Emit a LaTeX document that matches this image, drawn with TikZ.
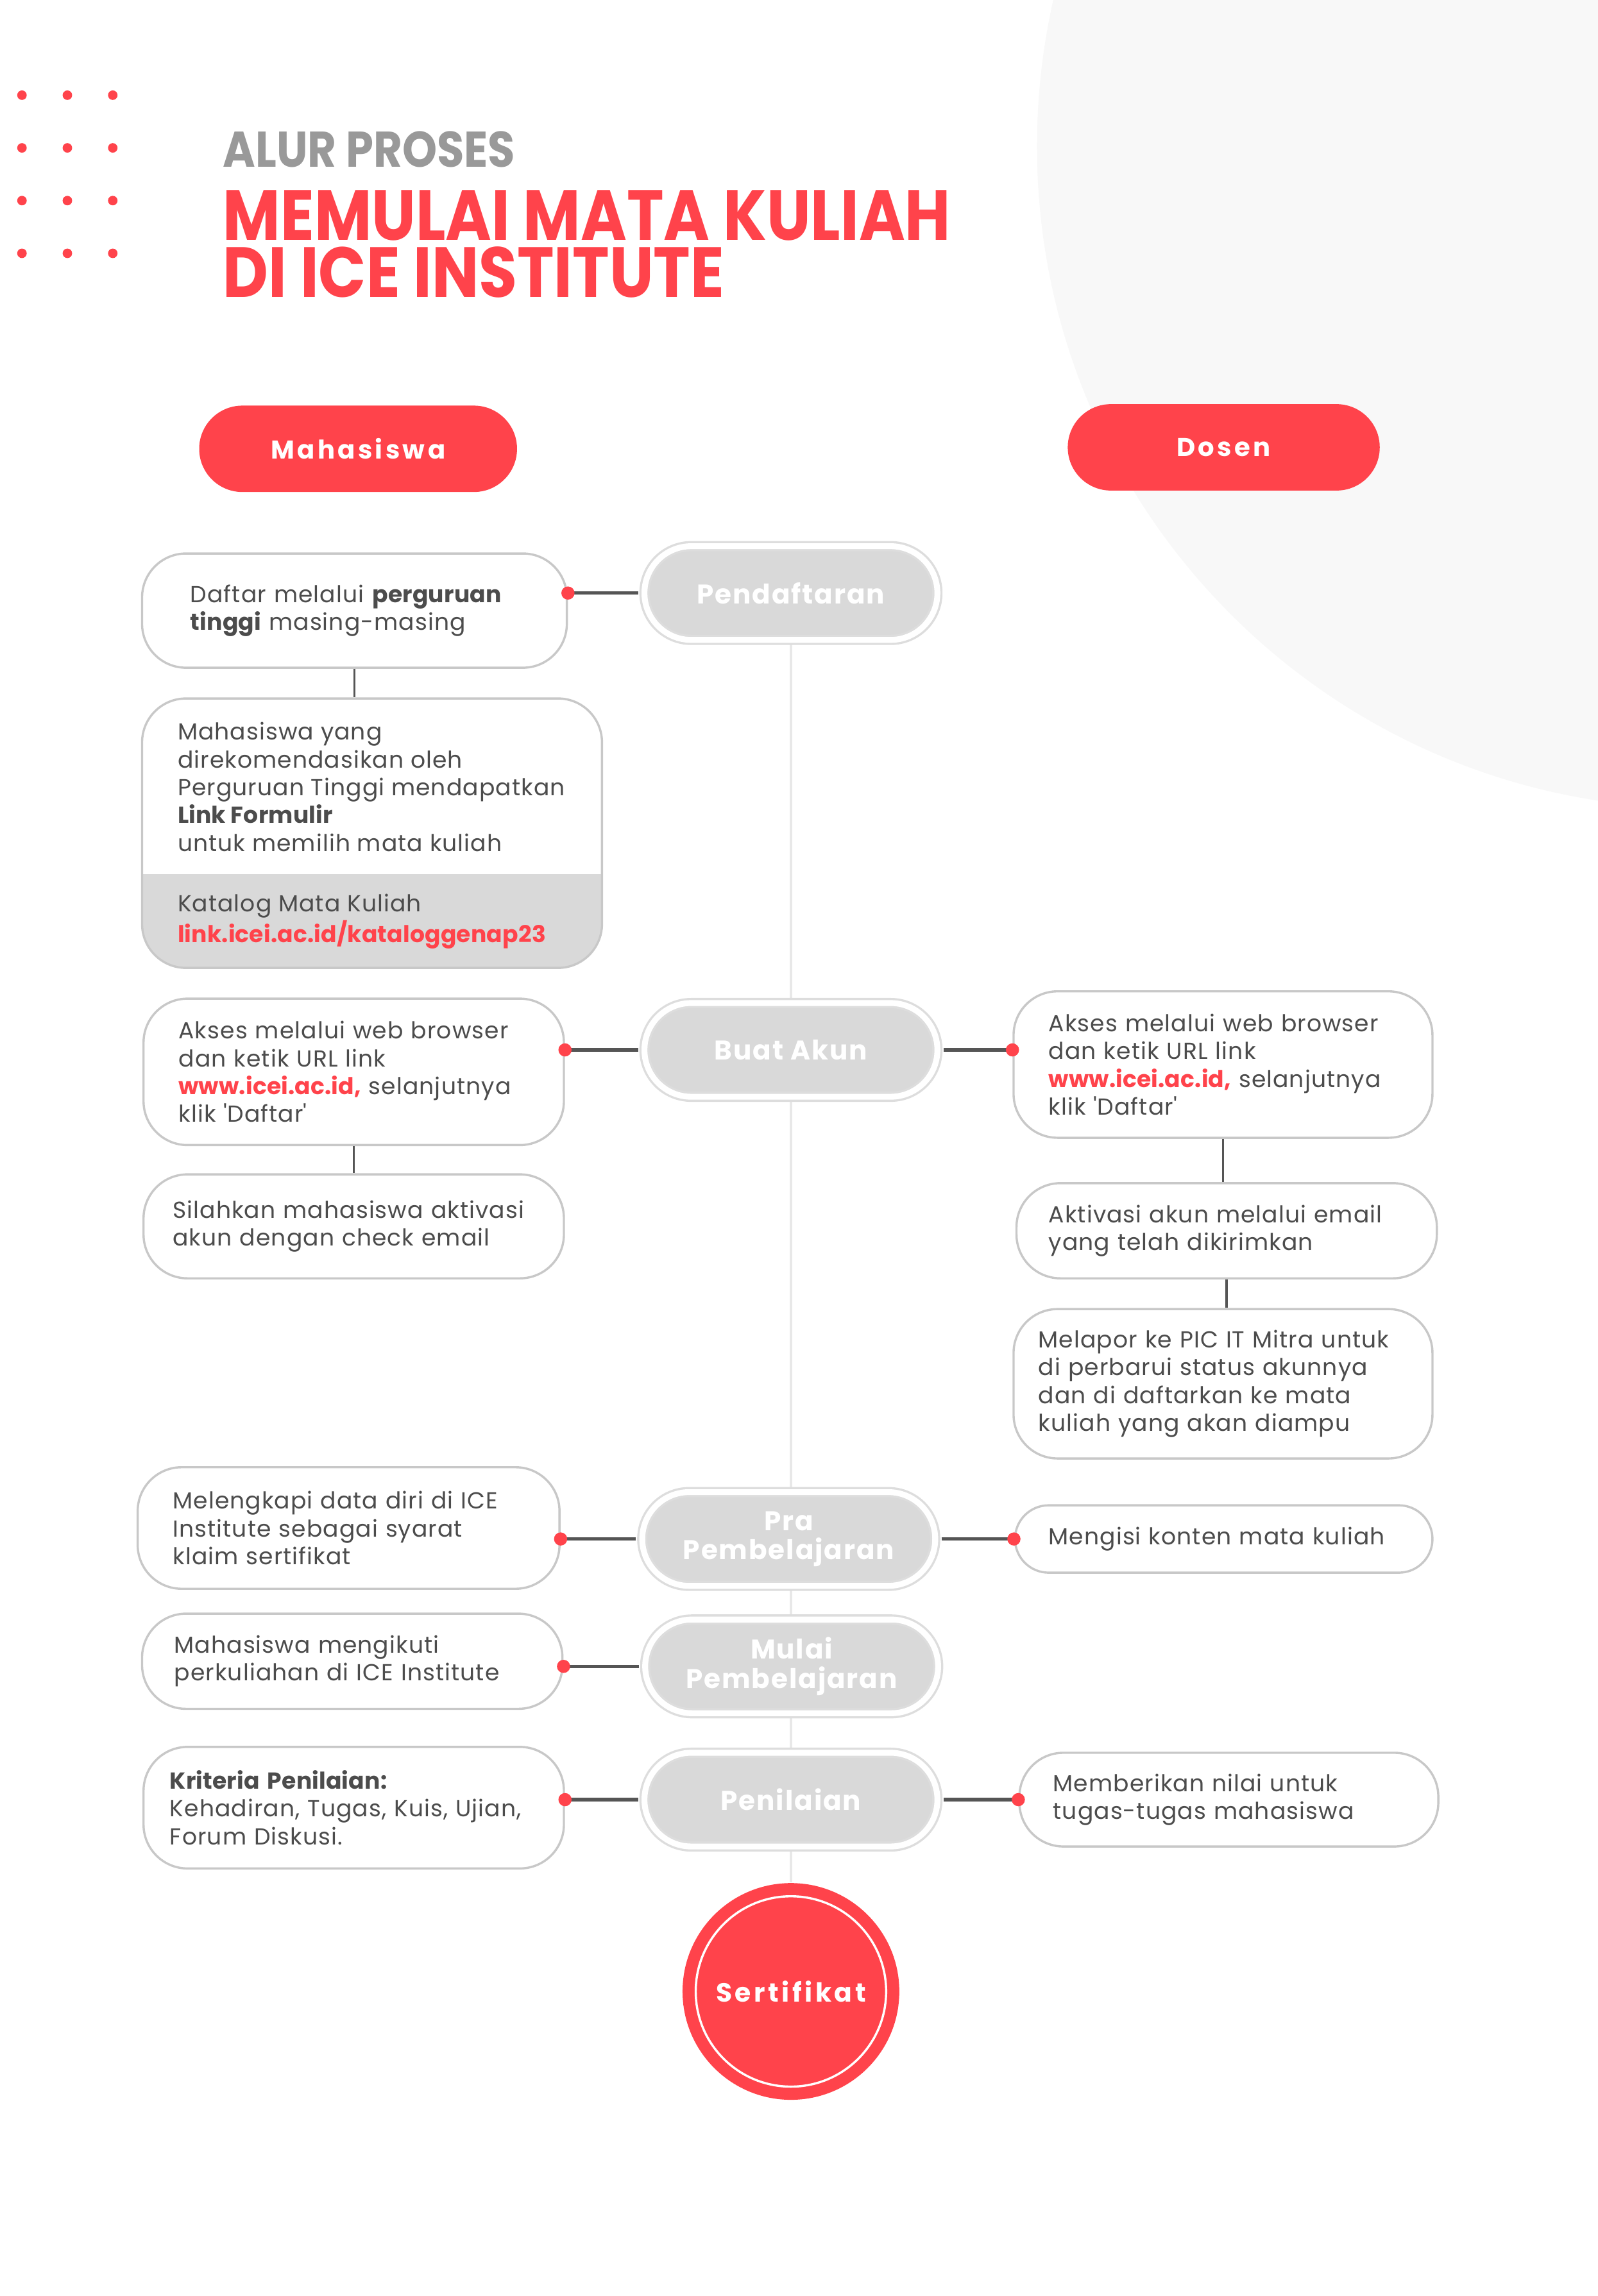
\documentclass[tikz,border=0pt]{standalone}
\usepackage{fontspec}
\setmainfont{Poppins}
\newfontfamily\bodyfont{Poppins}[LetterSpace=3.0, BoldFeatures={LetterSpace=0.5}]
\newfontfamily\stagefont{Poppins}[LetterSpace=4.5]
\newfontfamily\rolefont{Poppins}[LetterSpace=11.0]
\newfontfamily\titlefont{Poppins}[FakeStretch=0.88]
\usetikzlibrary{positioning,backgrounds}

\definecolor{icered}{HTML}{FF434B}
\definecolor{boxline}{HTML}{C8C8C8}
\definecolor{stagegray}{HTML}{D9D9D9}
\definecolor{ringgray}{HTML}{DDDDDD}
\definecolor{textgray}{HTML}{4C4C4C}
\definecolor{linkgray}{HTML}{555555}
\definecolor{bggray}{HTML}{F8F8F8}
\definecolor{titlegray}{HTML}{999999}
\definecolor{axisgray}{HTML}{E8E8E8}

\tikzset{
    box/.style   = {draw = boxline, line width = 0.3mm, fill = white, rounded corners = 6mm,
                    align = left, text = textgray, inner ysep = 0pt,
                    font = \bodyfont\fontsize{9}{10.8}\selectfont},
    textblock/.style = {anchor = north west, align = left, inner sep = 0pt, text = textgray,
                    font = \bodyfont\fontsize{9}{10.8}\selectfont},
    title/.style = {anchor = base west, inner sep = 0pt, align = left},
    stage/.style = {draw = ringgray, line width = 0.3mm, double = white, double distance = 0.8mm,
                    fill = stagegray, rounded corners = 6.39mm, minimum width = 40mm, minimum height = 12.8mm,
                    align = center, text = white, font = \stagefont\bfseries\fontsize{10.5}{11.3}\selectfont},
    role/.style  = {fill = icered, rounded corners = 5.89mm, minimum height = 11.8mm, text = white,
                    font = \rolefont\bfseries\fontsize{10}{12}\selectfont},
    cert/.style  = {circle, fill = icered, minimum size = 29.6mm, text = white,
                    font = \rolefont\bfseries\fontsize{10.2}{11.3}\selectfont,
                    path picture = {\draw [white, line width = 0.3mm] (path picture bounding box.center) circle [radius = 13mm];}},
    link/.style  = {draw = linkgray, line width = 0.45mm, shorten <= 0.7mm},
    stem/.style  = {draw = linkgray, line width = 0.3mm},
    dot/.style   = {circle, fill = icered, inner sep = 0pt, minimum size = 1.8mm},
}

\begin{document}
\begin{tikzpicture}[x = 0.2mm, y = -0.2mm]
    \useasboundingbox (0,0) rectangle (1091,1568);

    % background
    \begin{scope}
        \clip (0,0) rectangle (1091,1568);
        \fill [bggray] (1160,100) circle [radius = 90.4mm];
    \end{scope}

    \fill [icered] (15,65)  circle [radius = 0.65mm] (46,65)  circle [radius = 0.65mm] (77,65)  circle [radius = 0.65mm];
    \fill [icered] (15,101) circle [radius = 0.65mm] (46,101) circle [radius = 0.65mm] (77,101) circle [radius = 0.65mm];
    \fill [icered] (15,137) circle [radius = 0.65mm] (46,137) circle [radius = 0.65mm] (77,137) circle [radius = 0.65mm];
    \fill [icered] (15,173) circle [radius = 0.65mm] (46,173) circle [radius = 0.65mm] (77,173) circle [radius = 0.65mm];

    % title
    \node [title, text = titlegray, font = \titlefont\bfseries\fontsize{19.5}{20}\selectfont] (kicker) at (152,114) {ALUR PROSES};
    \node [title, text = icered, font = \titlefont\bfseries\fontsize{27.6}{22.3}\selectfont] (title) at (152,203)
        {MEMULAI MATA KULIAH\\DI ICE INSTITUTE};

    \node [role, minimum width = 43.4mm] (mhs) at (244.5,306.5) {Mahasiswa};
    \node [role, minimum width = 42.6mm] (dsn) at (835.5,305.5) {Dosen};

    % stages
    \node [stage] (daftar) at (540,405)    {Pendaftaran};
    \node [stage] (akun)   at (540,717)    {Buat Akun};
    \node [stage] (pra)    at (538.5,1051) {Pra\\Pembelajaran};
    \node [stage] (mulai)  at (540.5,1138) {Mulai\\Pembelajaran};
    \node [stage] (nilai)  at (540,1229)   {Penilaian};
    \node [cert]  (sert)   at (540,1360)   {Sertifikat};

    \begin{scope}[on background layer]
        \draw [axisgray, line width = 0.4mm] (daftar) -- (sert);
    \end{scope}

    % mahasiswa
    \node [box, minimum width = 58mm, minimum height = 15.6mm, inner xsep = 6.6mm, text width = 44.8mm] (l1) at (242,417)
        {Daftar melalui \textbf{perguruan}\\\textbf{tinggi} masing-masing};
    \node [box, minimum width = 62.8mm, minimum height = 36.8mm,
           path picture = {\fill [stagegray, sharp corners] (path picture bounding box.south west) rectangle ([yshift = 12.8mm] path picture bounding box.south east);}] (l2) at (254,569) {};
    \node [textblock] (l2text) at (121,493)
        {Mahasiswa yang\\direkomendasikan oleh\\Perguruan Tinggi mendapatkan\\\textbf{Link Formulir}\\untuk memilih mata kuliah};
    \node [textblock] (l2cat) at (121,610)
        {Katalog Mata Kuliah\\\textcolor{icered}{\textbf{link.icei.ac.id/kataloggenap23}}};
    \node [box, minimum width = 57.4mm, minimum height = 20mm, inner xsep = 4.8mm, text width = 47.8mm] (l3) at (241.5,732)
        {Akses melalui web browser\\dan ketik URL link\\\textcolor{icered}{\textbf{www.icei.ac.id,}} selanjutnya\\klik \textquotesingle Daftar\textquotesingle};
    \node [box, minimum width = 57.4mm, minimum height = 14.2mm, inner xsep = 4mm, text width = 49.4mm] (l4) at (241.5,837.5)
        {Silahkan mahasiswa aktivasi\\akun dengan check email};
    \node [box, minimum width = 57.6mm, minimum height = 16.6mm, inner xsep = 4.8mm, text width = 48mm] (l5) at (238,1043.5)
        {Melengkapi data diri di ICE\\Institute sebagai syarat\\klaim sertifikat};
    \node [box, minimum width = 57.4mm, minimum height = 13mm, inner xsep = 4.4mm, text width = 48.6mm] (l6) at (240.5,1134.5)
        {Mahasiswa mengikuti\\perkuliahan di ICE Institute};
    \node [box, minimum width = 57.4mm, minimum height = 16.6mm, inner xsep = 3.6mm, text width = 50.2mm] (l7) at (241.5,1234.5)
        {\textbf{Kriteria Penilaian:}\\Kehadiran, Tugas, Kuis, Ujian,\\Forum Diskusi.};

    % dosen
    \node [box, minimum width = 57.2mm, minimum height = 20mm, inner xsep = 4.8mm, text width = 47.6mm] (r1) at (835,727)
        {Akses melalui web browser\\dan ketik URL link\\\textcolor{icered}{\textbf{www.icei.ac.id,}} selanjutnya\\klik \textquotesingle Daftar\textquotesingle};
    \node [box, minimum width = 57.4mm, minimum height = 13mm, inner xsep = 4.4mm, text width = 48.6mm] (r2) at (837.5,840.5)
        {Aktivasi akun melalui email\\yang telah dikirimkan};
    \node [box, minimum width = 57.2mm, minimum height = 20.4mm, inner xsep = 3.4mm, text width = 50.4mm] (r3) at (835,945)
        {Melapor ke PIC IT Mitra untuk\\di perbarui status akunnya\\dan di daftarkan ke mata\\kuliah yang akan diampu};
    \node [box, minimum width = 57mm, minimum height = 9.2mm, rounded corners = 4.59mm, inner xsep = 4.6mm, text width = 47.8mm] (r4) at (835.5,1051)
        {Mengisi konten mata kuliah};
    \node [box, minimum width = 57.2mm, minimum height = 12.8mm, inner xsep = 4.6mm, text width = 48mm] (r5) at (839,1229)
        {Memberikan nilai untuk\\tugas-tugas mahasiswa};

    % connectors
    \draw [stem] (l1.south) -- (l1.south |- l2.north);
    \draw [stem] (l3.south) -- (l3.south |- l4.north);
    \draw [stem] (r1.south) -- (r1.south |- r2.north);
    \draw [stem] (r2.south) -- (r2.south |- r3.north);

    \draw [link] (daftar.west) -- (daftar -| l1.east) node [dot] (d1) {};
    \draw [link] (akun.west)   -- (akun -| l3.east)   node [dot] (d2) {};
    \draw [link] (akun.east)   -- (akun -| r1.west)   node [dot] (d3) {};
    \draw [link] (pra.west)    -- (pra -| l5.east)    node [dot] (d4) {};
    \draw [link] (pra.east)    -- (pra -| r4.west)    node [dot] (d5) {};
    \draw [link] (mulai.west)  -- (mulai -| l6.east)  node [dot] (d6) {};
    \draw [link] (nilai.west)  -- (nilai -| l7.east)  node [dot] (d7) {};
    \draw [link] (nilai.east)  -- (nilai -| r5.west)  node [dot] (d8) {};
\end{tikzpicture}
\end{document}
